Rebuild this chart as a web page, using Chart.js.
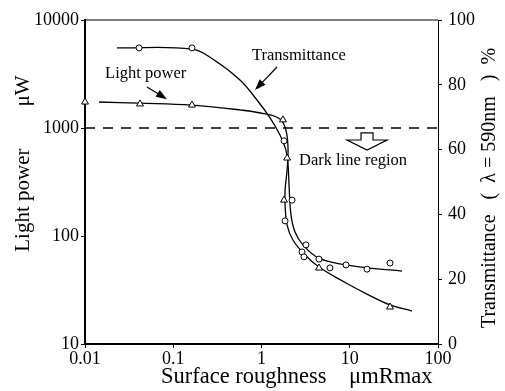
<!DOCTYPE html>
<html>
<head>
<meta charset="utf-8">
<script src="https://cdn.jsdelivr.net/npm/chart.js@4.4.0/dist/chart.umd.min.js"></script>
<style>
html, body { margin: 0; padding: 0; background: #fff; }
</style>
</head>
<body>
<canvas id="myChart" width="505" height="391"></canvas>
<script>
// measured points (circles = transmittance %, triangles = light power uW)
var transX = [0.041, 0.163, 1.80, 2.22, 1.85, 3.19, 2.88, 3.03, 4.48, 5.97, 9.07, 15.7, 28.6];
var transY = [91.4, 91.4, 62.7, 44.4, 38.0, 30.6, 28.4, 26.9, 26.2, 23.5, 24.4, 23.1, 25.0];
var powerX = [0.01, 0.042, 0.163, 1.75, 1.95, 1.80, 4.48, 28.6];
var powerY = [1740, 1670, 1630, 1190, 527, 215, 50.5, 22.0];

// fitted curves
var transCurveX = [0.023, 0.163, 0.282, 0.570, 0.889, 1.25, 1.62, 1.89, 2.0, 2.05, 2.16, 2.40, 2.95, 4.48, 9.07, 15.7, 39.1];
var transCurveY = [91.4, 91.0, 87.9, 81.5, 75.3, 69.8, 64.5, 59.9, 55.2, 49.1, 39.8, 34.6, 30.6, 26.5, 24.4, 23.5, 22.5];
var powerCurveX = [0.0144, 0.041, 0.163, 0.570, 1.10, 1.62, 1.89, 2.0, 1.95, 1.85, 1.85, 1.95, 2.27, 3.12, 4.48, 9.07, 15.7, 28.6, 50.7];
var powerCurveY = [1740, 1700, 1630, 1470, 1350, 1210, 958, 625, 408, 267, 194, 126, 91.8, 66.7, 51.6, 36.7, 29.0, 23.0, 20.2];

var darkLine = 1000;
var xTicks = [0.01, 0.1, 1, 10, 100];
var powerTicks = [10, 100, 1000, 10000];
var transTicks = [0, 20, 40, 60, 80, 100];

function pts(xs, ys) {
	return xs.map(function(v, i) { return {x: v, y: ys[i]}; });
}

var serif = "'Liberation Serif', 'DejaVu Serif', serif";

function arrow(ctx, x1, y1, x2, y2) {
	var a = Math.atan2(y2 - y1, x2 - x1);
	ctx.beginPath();
	ctx.moveTo(x1, y1);
	ctx.lineTo(x2 - 6 * Math.cos(a), y2 - 6 * Math.sin(a));
	ctx.stroke();
	ctx.beginPath();
	ctx.moveTo(x2, y2);
	ctx.lineTo(x2 - 11 * Math.cos(a) + 4 * Math.sin(a), y2 - 11 * Math.sin(a) - 4 * Math.cos(a));
	ctx.lineTo(x2 - 11 * Math.cos(a) - 4 * Math.sin(a), y2 - 11 * Math.sin(a) + 4 * Math.cos(a));
	ctx.closePath();
	ctx.fill();
}

var notes = {
	id: 'notes',
	afterDraw: function(chart) {
		var ctx = chart.ctx;
		var sx = chart.scales.x, sy = chart.scales.y, sy2 = chart.scales.y2;
		var a = chart.chartArea;
		function X(v) { return sx.getPixelForValue(v); }
		function Y(v) { return sy.getPixelForValue(v); }
		ctx.save();
		ctx.strokeStyle = '#000';
		ctx.fillStyle = '#000';
		ctx.lineWidth = 1;
		// top frame line
		ctx.beginPath();
		ctx.moveTo(a.left, a.top);
		ctx.lineTo(a.right, a.top);
		ctx.stroke();

		// right axis title, reading bottom to top like the left one
		ctx.save();
		ctx.translate(sy2.right - 15, (a.top + a.bottom) / 2 + 6);
		ctx.rotate(-Math.PI / 2);
		ctx.font = '20px ' + serif;
		ctx.textAlign = 'center';
		ctx.textBaseline = 'middle';
		ctx.fillText('Transmittance   (  λ = 590nm   )  %', 0, 0);
		ctx.restore();

		ctx.font = '16.5px ' + serif;
		ctx.textBaseline = 'middle';
		ctx.textAlign = 'left';
		ctx.fillText('Transmittance', X(0.78), Y(4640));
		ctx.fillText('Light power', X(0.0169), Y(3160));
		ctx.fillText('Dark line region', X(2.66), Y(495));

		ctx.lineWidth = 1.2;
		arrow(ctx, X(1.50), Y(3670), X(0.844), Y(2250));
		arrow(ctx, X(0.0504), Y(2400), X(0.085), Y(1850));

		// hollow arrow pointing down
		var cx = X(15.7), t = Y(900), h = Y(774), tip = Y(625);
		ctx.lineWidth = 1.2;
		ctx.beginPath();
		ctx.moveTo(cx - 6, t);
		ctx.lineTo(cx + 6, t);
		ctx.lineTo(cx + 6, h);
		ctx.lineTo(cx + 20, h);
		ctx.lineTo(cx, tip);
		ctx.lineTo(cx - 20, h);
		ctx.lineTo(cx - 6, h);
		ctx.closePath();
		ctx.stroke();
		ctx.restore();
	}
};

var ctx = document.getElementById('myChart');

var myChart = new Chart(ctx, {
	type: 'scatter',
	data: {
		datasets: [
		{
			data: pts(transX, transY),
			yAxisID: 'y2',
			pointStyle: 'circle',
			pointRadius: 3,
			pointBorderWidth: 1,
			pointBackgroundColor: '#fff',
			pointBorderColor: '#000',
			showLine: false,
			clip: false
		},
		{
			data: pts(powerX, powerY),
			yAxisID: 'y',
			pointStyle: 'triangle',
			pointRadius: 4,
			pointBorderWidth: 1,
			pointBackgroundColor: '#fff',
			pointBorderColor: '#000',
			showLine: false,
			clip: false
		},
		{
			data: pts(transCurveX, transCurveY),
			yAxisID: 'y2',
			showLine: true,
			pointRadius: 0,
			borderColor: '#000',
			borderWidth: 1.3,
			tension: 0.4
		},
		{
			data: pts(powerCurveX, powerCurveY),
			yAxisID: 'y',
			showLine: true,
			pointRadius: 0,
			borderColor: '#000',
			borderWidth: 1.3,
			tension: 0.4
		},
		{
			data: [{x: xTicks[0], y: darkLine}, {x: xTicks[xTicks.length - 1], y: darkLine}],
			yAxisID: 'y',
			showLine: true,
			pointRadius: 0,
			borderColor: '#000',
			borderWidth: 1.3,
			borderDash: [10, 8]
		}]
	},
	options: {
		responsive: false,
		animation: false,
		layout: { padding: { top: 20, left: 0, right: 0, bottom: 0 } },
		plugins: {
			legend: { display: false },
			tooltip: { enabled: false }
		},
		scales: {
			x: {
				type: 'logarithmic',
				min: 0.01,
				max: 100,
				afterBuildTicks: function(scale) {
					scale.ticks = xTicks.map(function(v) { return {value: v}; });
				},
				afterFit: function(scale) { scale.height = 47; },
				ticks: {
					color: '#000',
					font: { family: serif, size: 18 },
					padding: 0,
					maxRotation: 0,
					callback: function(v) { return String(v); }
				},
				grid: { drawOnChartArea: false, color: '#000', tickLength: 4 },
				border: { color: '#000', width: 2 },
				title: {
					display: true,
					text: 'Surface roughness    μmRmax ',
					align: 'end',
					color: '#000',
					font: { family: serif, size: 22.5 },
					padding: { top: 0, bottom: 0 }
				}
			},
			y: {
				type: 'logarithmic',
				position: 'left',
				min: 10,
				max: 10000,
				afterBuildTicks: function(scale) {
					scale.ticks = powerTicks.map(function(v) { return {value: v}; });
				},
				afterFit: function(scale) { scale.width = 85; },
				ticks: {
					color: '#000',
					font: { family: serif, size: 18 },
					padding: 2,
					callback: function(v) { return String(v); }
				},
				grid: { drawOnChartArea: false, color: '#000', tickLength: 4 },
				border: { color: '#000', width: 2 },
				title: {
					display: true,
					text: '       Light power        μW',
					color: '#000',
					font: { family: serif, size: 21 },
					padding: { top: 11, bottom: 0 }
				}
			},
			y2: {
				type: 'linear',
				position: 'right',
				min: 0,
				max: 100,
				afterBuildTicks: function(scale) {
					scale.ticks = transTicks.map(function(v) { return {value: v}; });
				},
				afterFit: function(scale) { scale.width = 67; },
				ticks: {
					color: '#000',
					font: { family: serif, size: 18 },
					padding: 6
				},
				grid: { drawOnChartArea: false, color: '#000', tickLength: 4 },
				border: { color: '#000', width: 1 }
			}
		}
	},
	plugins: [notes]
});
</script>
</body>
</html>
